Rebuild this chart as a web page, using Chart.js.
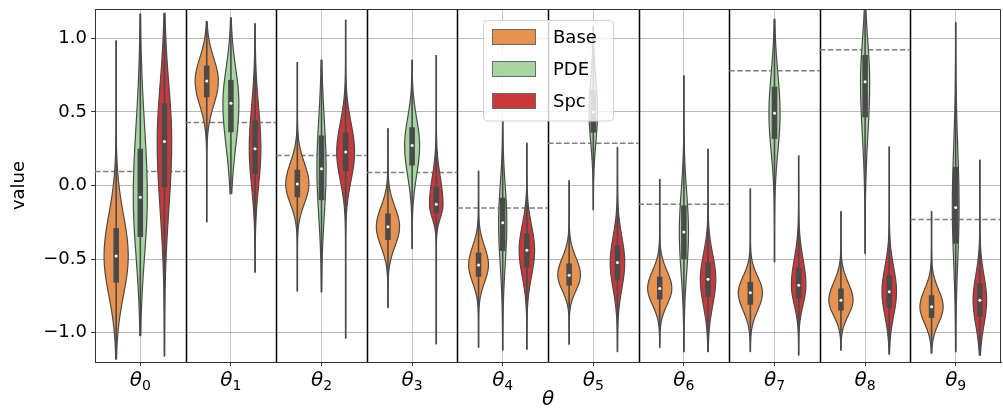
<!DOCTYPE html>
<html>
<head>
<meta charset="utf-8">
<script src="https://cdn.jsdelivr.net/npm/chart.js@4.4.0/dist/chart.umd.min.js"></script>
<style>
  html, body { margin: 0; padding: 0; background: #fff; }
</style>
</head>
<body>
<canvas id="violin-chart" width="1003" height="415"></canvas>
<script>
// ------------------------------------------------------------
// DATA
// ------------------------------------------------------------
const categories = ["θ0", "θ1", "θ2", "θ3", "θ4", "θ5", "θ6", "θ7", "θ8", "θ9"];
const seriesNames = ["Base", "PDE", "Spc"];
const yTicks = [-1.0, -0.5, 0.0, 0.5, 1.0];

// true parameter value per θ (dashed lines)
const truth = [0.096, 0.428, 0.204, 0.089, -0.153, 0.288, -0.128, 0.781, 0.923, -0.232];

// Base
const baseLo  = [-1.18, -0.25, -0.72, -0.83, -1.10, -1.08, -1.10, -1.13, -1.12, -1.14];
const baseQ1  = [-0.66, 0.60, -0.08, -0.37, -0.62, -0.68, -0.775, -0.81, -0.85, -0.90];
const baseMed = [-0.48, 0.71, 0.01, -0.28, -0.54, -0.61, -0.70, -0.73, -0.78, -0.825];
const baseQ3  = [-0.29, 0.815, 0.107, -0.19, -0.456, -0.53, -0.62, -0.655, -0.70, -0.746];
const baseHi  = [0.985, 1.115, 0.84, 0.39, 0.10, 0.035, 0.045, -0.02, -0.175, -0.175];
const basePeak = [1.0, 0.96, 0.96, 0.96, 0.82, 0.94, 1.0, 1.0, 1.0, 0.96];

// PDE
const pdeLo  = [-1.02, -0.056, -0.723, -0.43, -1.12, -0.165, -1.13, -0.52, -0.463, -1.13];
const pdeQ1  = [-0.35, 0.362, -0.10, 0.136, -0.445, 0.36, -0.503, 0.317, 0.464, -0.395];
const pdeMed = [-0.08, 0.559, 0.114, 0.272, -0.253, 0.50, -0.316, 0.491, 0.706, -0.15];
const pdeQ3  = [0.25, 0.718, 0.34, 0.396, -0.083, 0.65, -0.135, 0.672, 0.887, 0.125];
const pdeHi  = [1.165, 1.14, 0.853, 0.853, 0.44, 1.08, 0.747, 1.13, 1.19, 1.11];
const pdePeak = [0.58, 0.66, 0.38, 0.62, 0.34, 0.35, 0.38, 0.46, 0.38, 0.28];

// Spc
const spcLo  = [-1.16, -0.59, -1.04, -1.08, -1.114, -1.13, -1.13, -1.153, -1.146, -1.153];
const spcQ1  = [-0.01, 0.08, 0.098, -0.19, -0.558, -0.644, -0.757, -0.768, -0.832, -0.893];
const spcMed = [0.30, 0.25, 0.227, -0.128, -0.44, -0.524, -0.637, -0.678, -0.723, -0.78];
const spcQ3  = [0.559, 0.442, 0.36, -0.006, -0.327, -0.406, -0.524, -0.558, -0.61, -0.666];
const spcHi  = [1.17, 1.10, 1.125, 0.887, 0.288, 0.26, 0.25, 0.204, 0.265, 0.175];
const spcPeak = [0.6, 0.48, 0.74, 0.56, 0.64, 0.6, 0.64, 0.6, 0.6, 0.56];

const fills = ["#e8924f", "#a5d6a0", "#c8393b"];
const edge = "#4a4a4a";

// ------------------------------------------------------------
// helpers
// ------------------------------------------------------------
function violinsFor(lo, q1, med, q3, hi, peak) {
    return lo.map((_, i) => ({ lo: lo[i], q1: q1[i], med: med[i], q3: q3[i], hi: hi[i], peak: peak[i] }));
}

const violins = [
    violinsFor(baseLo, baseQ1, baseMed, baseQ3, baseHi, basePeak),
    violinsFor(pdeLo, pdeQ1, pdeMed, pdeQ3, pdeHi, pdePeak),
    violinsFor(spcLo, spcQ1, spcMed, spcQ3, spcHi, spcPeak)
];

function fmtTick(v) {
    const s = Math.abs(v).toFixed(1);
    return v < 0 ? "\u2212" + s : s;
}

// outline of one violin, smooth density shaped from the quartiles
function drawViolin(ctx, x, yScale, v, maxHalf, fill) {
    const n = 200;
    const pts = [];
    for (let k = 0; k <= n; k++) {
        const val = v.lo + (v.hi - v.lo) * k / n;
        const s = val >= v.med ? (v.q3 - v.med) / 0.674 : (v.med - v.q1) / 0.674;
        const z = (val - v.med) / s;
        pts.push([yScale.getPixelForValue(val), v.peak * maxHalf * Math.exp(-0.5 * z * z)]);
    }
    ctx.beginPath();
    pts.forEach(([py, hw], k) => k ? ctx.lineTo(x + hw, py) : ctx.moveTo(x + hw, py));
    for (let k = pts.length - 1; k >= 0; k--) ctx.lineTo(x - pts[k][1], pts[k][0]);
    ctx.closePath();
    ctx.fillStyle = fill;
    ctx.fill();
    ctx.lineWidth = 1.2;
    ctx.strokeStyle = edge;
    ctx.stroke();
}

// ------------------------------------------------------------
// violin plugin
// ------------------------------------------------------------
const violinPlugin = {
    id: "violins",
    beforeDatasetsDraw(chart) {
        const { ctx, chartArea, scales: { x, y } } = chart;
        const catW = x.width / categories.length;
        const maxHalf = catW * 0.8 / 3 / 2;
        ctx.save();

        // group separators
        ctx.strokeStyle = "#000";
        ctx.lineWidth = 1.5;
        for (let i = 1; i < categories.length; i++) {
            const px = Math.round(x.getPixelForValue(i) - catW / 2) + 0.5;
            ctx.beginPath();
            ctx.moveTo(px, chartArea.top);
            ctx.lineTo(px, chartArea.bottom);
            ctx.stroke();
        }

        // true values
        ctx.strokeStyle = "#7f7f7f";
        ctx.lineWidth = 1.5;
        ctx.setLineDash([5.5, 2.5]);
        truth.forEach((t, i) => {
            const cx = x.getPixelForValue(i);
            const py = y.getPixelForValue(t);
            ctx.beginPath();
            ctx.moveTo(cx - catW / 2, py);
            ctx.lineTo(cx + catW / 2, py);
            ctx.stroke();
        });
        ctx.setLineDash([]);

        // bodies + whiskers
        violins.forEach((list, s) => {
            const meta = chart.getDatasetMeta(s);
            list.forEach((v, i) => {
                const bx = meta.data[i].x;
                drawViolin(ctx, bx, y, v, maxHalf, fills[s]);
                ctx.strokeStyle = edge;
                ctx.lineWidth = 1.6;
                ctx.beginPath();
                ctx.moveTo(bx, y.getPixelForValue(v.lo));
                ctx.lineTo(bx, y.getPixelForValue(v.hi));
                ctx.stroke();
            });
        });
        ctx.restore();
    },
    afterDatasetsDraw(chart) {
        const { ctx, chartArea, scales: { y } } = chart;
        ctx.save();
        // medians
        ctx.fillStyle = "#fff";
        violins.forEach((list, s) => {
            const meta = chart.getDatasetMeta(s);
            list.forEach((v, i) => {
                ctx.beginPath();
                ctx.arc(meta.data[i].x, y.getPixelForValue(v.med), 1.5, 0, Math.PI * 2);
                ctx.fill();
            });
        });
        // top + right spines
        ctx.strokeStyle = "#333";
        ctx.lineWidth = 1;
        ctx.beginPath();
        ctx.moveTo(chartArea.left, chartArea.top + 0.5);
        ctx.lineTo(chartArea.right - 0.5, chartArea.top + 0.5);
        ctx.lineTo(chartArea.right - 0.5, chartArea.bottom);
        ctx.stroke();
        ctx.restore();
    },
    afterDraw(chart) {
        const { ctx, chartArea, scales: { x } } = chart;
        ctx.save();

        // x tick labels: italic theta with upright subscript
        ctx.fillStyle = "#000";
        ctx.textBaseline = "alphabetic";
        categories.forEach((lab, i) => {
            const sym = lab.slice(0, 1), sub = lab.slice(1);
            ctx.font = "italic 20px 'DejaVu Sans'";
            const w1 = ctx.measureText(sym).width;
            ctx.font = "14px 'DejaVu Sans'";
            const w2 = ctx.measureText(sub).width;
            const left = x.getPixelForValue(i) - (w1 + w2) / 2;
            const base = chartArea.bottom + 24;
            ctx.font = "italic 20px 'DejaVu Sans'";
            ctx.fillText(sym, left, base);
            ctx.font = "14px 'DejaVu Sans'";
            ctx.fillText(sub, left + w1, base + 4);
        });

        // legend box, upper centre
        const w = 130, h = 100.5;
        const lx = (chartArea.left + chartArea.right) / 2 - w / 2;
        const ly = chartArea.top + 11;
        ctx.beginPath();
        ctx.roundRect(lx + 0.5, ly + 0.5, w, h, 4);
        ctx.fillStyle = "rgba(255,255,255,0.8)";
        ctx.fill();
        ctx.strokeStyle = "#d0d0d0";
        ctx.lineWidth = 1;
        ctx.stroke();
        ctx.font = "18px 'DejaVu Sans'";
        ctx.textBaseline = "middle";
        seriesNames.forEach((name, k) => {
            const py = ly + 9 + k * 32;
            ctx.fillStyle = fills[k];
            ctx.fillRect(lx + 9, py, 44, 16);
            ctx.strokeStyle = "#6a6a6a";
            ctx.strokeRect(lx + 9.5, py + 0.5, 43, 15);
            ctx.fillStyle = "#000";
            ctx.fillText(name, lx + 70, py + 9);
        });
        ctx.restore();
    }
};

// ------------------------------------------------------------
// INIT CHART
// ------------------------------------------------------------
function initViolinChart() {
    const ctx = document.getElementById("violin-chart").getContext("2d");

    new Chart(ctx, {
        type: "bar",
        data: {
            labels: categories,
            datasets: violins.map((list, s) => ({
                label: seriesNames[s],
                data: list.map(v => [v.q1, v.q3]),
                backgroundColor: edge,
                borderWidth: 0,
                barPercentage: 0.23,
                categoryPercentage: 0.8
            }))
        },
        options: {
            responsive: false,
            animation: false,
            devicePixelRatio: 1,
            layout: { padding: { top: 9, right: 2, left: 0, bottom: 0 } },
            plugins: {
                legend: { display: false },
                tooltip: { enabled: false }
            },
            scales: {
                x: {
                    offset: true,
                    grid: { offset: false, color: "#c8c8c8", lineWidth: 1, tickLength: 4, tickColor: "#333" },
                    border: { color: "#333", width: 1 },
                    ticks: { display: false },
                    title: { display: true, text: "θ", color: "#000", font: { family: "DejaVu Sans", size: 20, style: "italic" }, padding: { top: 0, bottom: 3 } },
                    afterFit(scale) { scale.height = 53; scale.paddingLeft = 0; scale.paddingRight = 0; }
                },
                y: {
                    min: -1.2,
                    max: 1.2,
                    afterBuildTicks(scale) { scale.ticks = yTicks.map(v => ({ value: v })); },
                    grid: { color: "#b8b8b8", lineWidth: 1, tickLength: 4, tickColor: "#333" },
                    border: { color: "#333", width: 1 },
                    ticks: { color: "#000", font: { family: "DejaVu Sans", size: 18 }, padding: 4, callback: v => fmtTick(v) },
                    title: { display: true, text: "value", color: "#000", font: { family: "DejaVu Sans", size: 18 }, padding: { top: 9, bottom: 0 } },
                    afterFit(scale) { scale.width = 95; scale.paddingTop = 0; scale.paddingBottom = 0; }
                }
            }
        },
        plugins: [violinPlugin]
    });
}

document.addEventListener("DOMContentLoaded", initViolinChart);
</script>
</body>
</html>
